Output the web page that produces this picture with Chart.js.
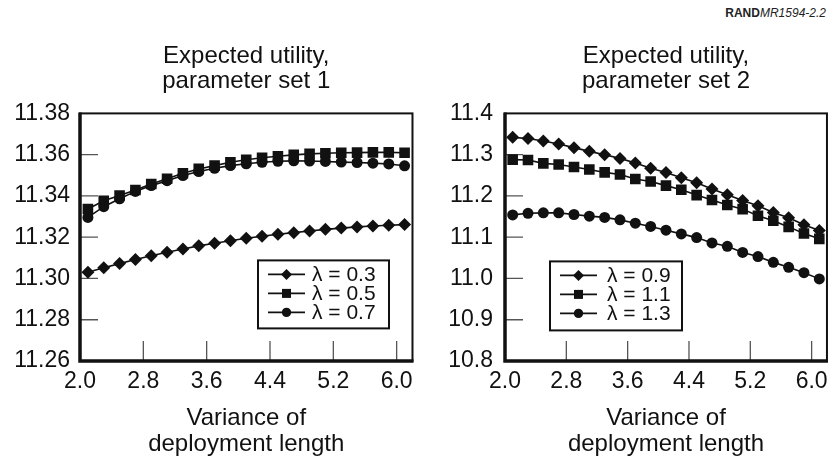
<!DOCTYPE html>
<html>
<head>
<meta charset="utf-8">
<script src="https://cdn.jsdelivr.net/npm/chart.js@4"></script>
<style>
body { margin: 0; background: #fff; width: 835px; height: 461px; position: relative; overflow: hidden; font-family: "Liberation Sans", Arial, sans-serif; }
#c1 { position: absolute; left: 0; top: 0; }
#c2 { position: absolute; left: 420px; top: 0; }
#tag { position: absolute; right: 9px; top: 6px; font-size: 12px; color: #222; }
</style>
</head>
<body>
<div id="tag"><b>RAND</b><i>MR1594-2.2</i></div>
<canvas id="c1" width="420" height="461"></canvas>
<canvas id="c2" width="415" height="461"></canvas>
<script>
// variance of deployment length (x), same for both panels
const variance = [2.1, 2.3, 2.5, 2.7, 2.9, 3.1, 3.3, 3.5, 3.7, 3.9, 4.1, 4.3, 4.5, 4.7, 4.9, 5.1, 5.3, 5.5, 5.7, 5.9, 6.1];
const xTicks = [2.0, 2.8, 3.6, 4.4, 5.2, 6.0];

// parameter set 1
const set1Labels = ['λ = 0.3', 'λ = 0.5', 'λ = 0.7'];
const set1Lam03 = [11.303, 11.3052, 11.3072, 11.3092, 11.311, 11.3127, 11.3143, 11.3158, 11.3171, 11.3183, 11.3195, 11.3205, 11.3214, 11.3222, 11.323, 11.3238, 11.3244, 11.325, 11.3254, 11.3258, 11.3261];
const set1Lam05 = [11.3337, 11.3377, 11.3402, 11.3429, 11.3458, 11.3483, 11.351, 11.3531, 11.3547, 11.3563, 11.3575, 11.3585, 11.3592, 11.3599, 11.3604, 11.3607, 11.3609, 11.361, 11.3611, 11.3611, 11.3609];
const set1Lam07 = [11.3296, 11.3348, 11.3386, 11.3422, 11.345, 11.3474, 11.3499, 11.3518, 11.3534, 11.3547, 11.3556, 11.3563, 11.3568, 11.357, 11.3569, 11.3567, 11.3564, 11.3562, 11.3559, 11.3555, 11.3546];
const set1Ticks = [11.26, 11.28, 11.30, 11.32, 11.34, 11.36, 11.38];

// parameter set 2
const set2Labels = ['λ = 0.9', 'λ = 1.1', 'λ = 1.3'];
const set2Lam09 = [11.342, 11.339, 11.333, 11.326, 11.317, 11.308, 11.3, 11.291, 11.28, 11.267, 11.257, 11.244, 11.232, 11.217, 11.203, 11.189, 11.176, 11.16, 11.147, 11.13, 11.116];
const set2Lam11 = [11.288, 11.287, 11.279, 11.276, 11.27, 11.264, 11.257, 11.252, 11.241, 11.235, 11.225, 11.215, 11.202, 11.19, 11.178, 11.168, 11.152, 11.14, 11.125, 11.109, 11.096];
const set2Lam13 = [11.154, 11.158, 11.159, 11.159, 11.155, 11.151, 11.148, 11.142, 11.134, 11.126, 11.117, 11.108, 11.099, 11.086, 11.078, 11.063, 11.053, 11.039, 11.027, 11.014, 10.999];
const set2Ticks = [10.8, 10.9, 11.0, 11.1, 11.2, 11.3, 11.4];

const FONT = '"Liberation Sans", Arial, Helvetica, sans-serif';
const INK = '#111';
const markers = [
  {style: 'rectRot', r: 6.5},
  {style: 'rect', r: 7.5},
  {style: 'circle', r: 5.5}
];

function drawMarker(ctx, style, x, y, r) {
  ctx.beginPath();
  if (style === 'rectRot') {
    ctx.moveTo(x - r, y); ctx.lineTo(x, y - r); ctx.lineTo(x + r, y); ctx.lineTo(x, y + r); ctx.closePath();
  } else if (style === 'rect') {
    const s = r * Math.SQRT1_2;
    ctx.rect(x - s, y - s, 2 * s, 2 * s);
  } else {
    ctx.arc(x, y, r, 0, Math.PI * 2);
  }
  ctx.fill();
}

// box around the plot, heavy left/bottom axes, short inward ticks
const frame = {
  id: 'frame',
  beforeDatasetsDraw(chart) {
    const {ctx, chartArea: a, scales: {x, y}} = chart;
    ctx.save();
    ctx.strokeStyle = '#555';
    ctx.lineWidth = 1.3;
    ctx.beginPath();
    y.ticks.forEach(t => {
      const py = y.getPixelForValue(t.value);
      if (py > a.top + 2 && py < a.bottom - 2) { ctx.moveTo(a.left, py); ctx.lineTo(a.left + 18, py); }
    });
    x.ticks.forEach(t => {
      const px = x.getPixelForValue(t.value);
      if (px > a.left + 2 && px < a.right - 2) { ctx.moveTo(px, a.bottom); ctx.lineTo(px, a.bottom - 20); }
    });
    ctx.stroke();
    ctx.strokeStyle = INK;
    ctx.lineWidth = 2;
    ctx.strokeRect(a.left, a.top, a.right - a.left, a.bottom - a.top);
    ctx.lineWidth = 3.5;
    ctx.beginPath();
    ctx.moveTo(a.left, a.top - 1);
    ctx.lineTo(a.left, a.bottom);
    ctx.lineTo(a.right + 1, a.bottom);
    ctx.stroke();
    ctx.restore();
  }
};

// legend in a bordered box inside the plot
const boxLegend = {
  id: 'boxLegend',
  afterDraw(chart, args, opts) {
    const {ctx, chartArea: a} = chart;
    const bx = a.left + opts.x, by = a.top + opts.y;
    ctx.save();
    ctx.fillStyle = '#fff';
    ctx.fillRect(bx, by, opts.w, opts.h);
    ctx.strokeStyle = INK;
    ctx.lineWidth = 2;
    ctx.strokeRect(bx, by, opts.w, opts.h);
    ctx.font = '21px ' + FONT;
    ctx.textBaseline = 'middle';
    chart.data.datasets.forEach((ds, i) => {
      const cy = by + opts.rows[i];
      ctx.strokeStyle = INK;
      ctx.lineWidth = 1.8;
      ctx.beginPath(); ctx.moveTo(bx + 10, cy); ctx.lineTo(bx + 47, cy); ctx.stroke();
      ctx.fillStyle = INK;
      drawMarker(ctx, ds.pointStyle, bx + 28.5, cy, ds.pointRadius * 0.85);
      ctx.fillText(ds.label, bx + opts.textX, cy + 1);
    });
    ctx.restore();
  }
};

function makeChart(id, title, labels, series, yTicks, digits, yWidth, yPad, padRight, legend) {
  new Chart(document.getElementById(id), {
    type: 'line',
    data: {
      datasets: series.map((vals, i) => ({
        label: labels[i],
        data: vals.map((v, j) => ({x: variance[j], y: v})),
        borderColor: INK,
        backgroundColor: INK,
        borderWidth: 1.6,
        pointStyle: markers[i].style,
        pointRadius: markers[i].r,
        pointHoverRadius: markers[i].r,
        pointBorderWidth: 0,
        tension: 0,
        clip: 8
      }))
    },
    options: {
      responsive: false,
      animation: false,
      devicePixelRatio: 1,
      layout: {padding: {left: 0, right: padRight, top: 0, bottom: 0}},
      plugins: {
        legend: {display: false},
        tooltip: {enabled: false},
        title: {
          display: true, text: title, fullSize: false, color: INK,
          font: {family: FONT, size: 24, weight: 'normal', lineHeight: 1.05},
          padding: {top: 44, bottom: 19}
        },
        boxLegend: legend
      },
      scales: {
        x: {
          type: 'linear', min: 2, max: 6.2,
          grid: {display: false, drawTicks: false},
          border: {display: false},
          afterBuildTicks: s => { s.ticks = xTicks.map(v => ({value: v})); },
          afterFit: s => { s.height = 100; },
          ticks: {color: INK, font: {family: FONT, size: 23}, padding: 7, maxRotation: 0, autoSkip: false,
                  callback: v => Number(v).toFixed(1)},
          title: {display: true, text: ['Variance of', 'deployment length'], color: INK,
                  font: {family: FONT, size: 24, lineHeight: 1.1}, padding: {top: 0, bottom: 3}}
        },
        y: {
          min: yTicks[0], max: yTicks[yTicks.length - 1],
          grid: {display: false, drawTicks: false},
          border: {display: false},
          afterBuildTicks: s => { s.ticks = yTicks.map(v => ({value: v})); },
          afterFit: s => { s.width = yWidth; },
          ticks: {color: INK, font: {family: FONT, size: 23}, padding: yPad, autoSkip: false,
                  callback: v => Number(v).toFixed(digits)}
        }
      }
    },
    plugins: [frame, boxLegend]
  });
}

makeChart('c1', ['Expected utility,', 'parameter set 1'], set1Labels,
  [set1Lam03, set1Lam05, set1Lam07], set1Ticks, 2, 80, 10, 7,
  {x: 178, y: 147, w: 131, h: 68, rows: [14, 33, 52], textX: 54});

makeChart('c2', ['Expected utility,', 'parameter set 2'], set2Labels,
  [set2Lam09, set2Lam11, set2Lam13], set2Ticks, 1, 85, 12, 6,
  {x: 45, y: 148, w: 132, h: 69, rows: [14, 33, 52], textX: 57});
</script>
</body>
</html>
